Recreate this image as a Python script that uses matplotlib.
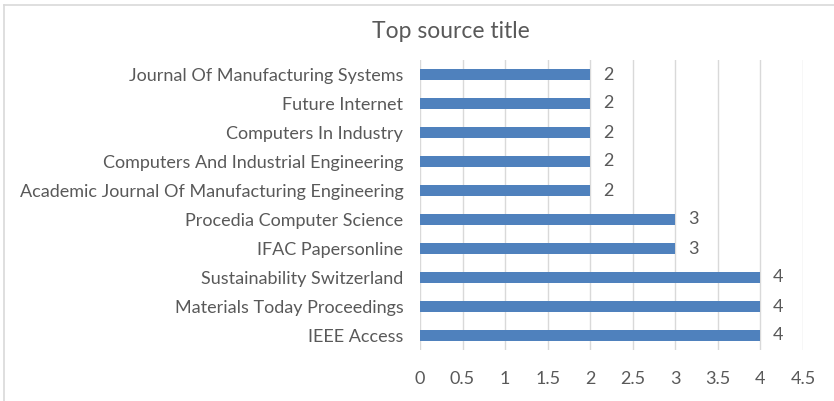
import matplotlib.pyplot as plt
from matplotlib.lines import Line2D

titles = ['IEEE Access', 'Materials Today Proceedings', 'Sustainability Switzerland',
          'IFAC Papersonline', 'Procedia Computer Science',
          'Academic Journal Of Manufacturing Engineering',
          'Computers And Industrial Engineering', 'Computers In Industry',
          'Future Internet', 'Journal Of Manufacturing Systems']
counts = [4, 4, 4, 3, 3, 2, 2, 2, 2, 2]
ticks = [0, 0.5, 1, 1.5, 2, 2.5, 3, 3.5, 4, 4.5]

plt.rcParams['font.family'] = ['Lato', 'DejaVu Sans']
grey = '#595959'

fig = plt.figure(figsize=(8.34, 4.01), dpi=100)
ax = fig.add_axes([420/834, 1 - 350/401, 383/834, 290/401])

y = range(len(titles))
ax.barh(y, counts, height=0.35, color='#4F81BD', zorder=3)
for yi, c in zip(y, counts):
    ax.text(c + 0.15, yi, str(c), va='center', ha='left', fontsize=13, color=grey)

ax.set_xlim(0, 4.5)
ax.set_ylim(-0.5, len(titles) - 0.5)
ax.set_xticks(ticks)
ax.set_xticklabels([f'{t:g}' for t in ticks])
ax.set_yticks(list(y))
ax.set_yticklabels(titles)
ax.tick_params(axis='both', length=0, labelsize=13, colors=grey)
ax.tick_params(axis='x', pad=15)
ax.tick_params(axis='y', pad=12)
ax.grid(axis='x', color='#D9D9D9', linewidth=1, zorder=0)
for s in ax.spines.values():
    s.set_visible(False)

fig.text(451/834, 1 - 32/401, 'Top source title', ha='center', va='center',
         fontsize=16.5, color=grey)

# chart area border (top and left edges visible)
fig.add_artist(Line2D([4/834, 1], [1 - 5/401, 1 - 5/401], transform=fig.transFigure,
                      color='#D9D9D9', linewidth=1.2))
fig.add_artist(Line2D([4/834, 4/834], [0, 1 - 5/401], transform=fig.transFigure,
                      color='#D9D9D9', linewidth=1.2))

fig.savefig('out.png', dpi=100)
